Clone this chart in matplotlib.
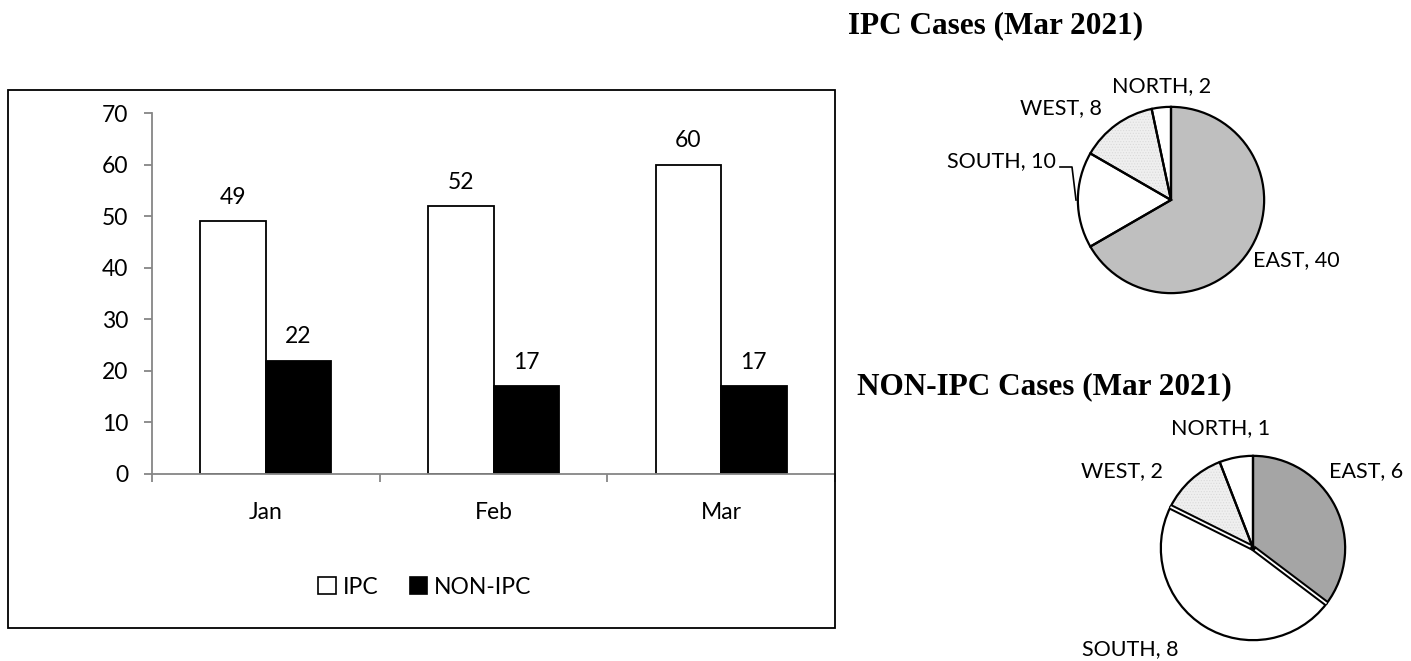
import matplotlib.pyplot as plt
import matplotlib.patches as patches
from matplotlib.lines import Line2D
import numpy as np

# data
months = ['Jan', 'Feb', 'Mar']
ipc = [49, 52, 60]
non_ipc = [22, 17, 17]

regions = ['EAST', 'SOUTH', 'WEST', 'NORTH']
ipc_mar = [40, 10, 8, 2]
non_ipc_mar = [6, 8, 2, 1]

W, H = 1411, 661
plt.rcParams['font.family'] = ['Lato', 'DejaVu Sans']
plt.rcParams['hatch.linewidth'] = 0.5


def fx(x):
    return x / W


def fy(y):
    return 1 - y / H


fig = plt.figure(figsize=(W / 100, H / 100), dpi=100)
fig.patch.set_facecolor('white')

# outer frame of bar chart
fig.patches.append(patches.Rectangle((fx(8), fy(628)), fx(835) - fx(8), fy(90) - fy(628),
                                     transform=fig.transFigure, fill=False,
                                     edgecolor='black', lw=1.3))

# bar chart
ax = fig.add_axes([fx(152), fy(474), fx(835) - fx(152), fy(113) - fy(474)])
x = np.arange(len(months))
bw = 0.287
b1 = ax.bar(x - bw / 2, ipc, bw, color='white', edgecolor='black', lw=1.3, label='IPC', zorder=2)
b2 = ax.bar(x + bw / 2, non_ipc, bw, color='black', edgecolor='black', lw=1.3, label='NON-IPC', zorder=2)
for bars, vals in ((b1, ipc), (b2, non_ipc)):
    for r, v in zip(bars, vals):
        ax.annotate(str(v), (r.get_x() + r.get_width() / 2, v), xytext=(0, 9.5),
                    textcoords='offset points', ha='center', va='bottom', fontsize=16.5)

ax.set_xlim(-0.5, 2.5)
ax.set_ylim(0, 70)
ax.set_yticks(range(0, 71, 10))
ax.set_xticks(x)
ax.set_xticklabels(months)
ax.set_xticks([-0.5, 0.5, 1.5, 2.5], minor=True)
ax.tick_params(axis='x', which='major', length=0, pad=20, labelsize=16.5)
ax.tick_params(axis='x', which='minor', length=6, color='#868686', width=1.3)
ax.tick_params(axis='y', length=6, color='#868686', width=1.3, pad=11, labelsize=16.5)
for s in ('top', 'right'):
    ax.spines[s].set_visible(False)
for s in ('left', 'bottom'):
    ax.spines[s].set_color('#868686')
    ax.spines[s].set_linewidth(1.3)

handles = [patches.Patch(facecolor='white', edgecolor='black', lw=1.2, label='IPC'),
           patches.Patch(facecolor='black', edgecolor='black', lw=1.2, label='NON-IPC')]
fig.legend(handles=handles, loc='center', bbox_to_anchor=(fx(425), fy(587)), ncol=2,
           frameon=False, fontsize=16.5, handlelength=0.75, handleheight=0.75,
           handletextpad=0.3, columnspacing=1.4)


def draw_pie(vals, east_color, cx, cy, r, double_edges=()):
    pax = fig.add_axes([fx(cx - r), fy(cy + r), 2 * r / W, 2 * r / H])
    colors = [east_color, 'white', '#efefef', 'white']
    wedges, _ = pax.pie(vals, colors=colors, startangle=90, counterclock=False,
                        wedgeprops=dict(linewidth=0))
    wedges[2].set_hatch('......')
    wedges[2].set_edgecolor('#dadada')
    outl, _ = pax.pie(vals, colors=['none'] * 4, startangle=90, counterclock=False,
                      wedgeprops=dict(edgecolor='black', linewidth=1.6))
    # doubled radial edges
    for i in double_edges:
        a = np.deg2rad(outl[i].theta1)
        pax.plot([0, np.cos(a)], [0, np.sin(a)], color='black', lw=4.2, solid_capstyle='butt', zorder=5)
        pax.plot([0.03 * np.cos(a), np.cos(a)], [0.03 * np.sin(a), np.sin(a)], color='white', lw=1.3,
                 solid_capstyle='butt', zorder=6)
    pax.set_xlim(-1.02, 1.02)
    pax.set_ylim(-1.02, 1.02)
    return pax


draw_pie(ipc_mar, '#bfbfbf', 1171, 200, 95)
draw_pie(non_ipc_mar, '#a5a5a5', 1253, 548, 94, double_edges=(0, 1))

title_font = dict(family=['Liberation Serif', 'DejaVu Serif'], fontweight='bold', fontsize=22.5)
fig.text(fx(848), fy(33), 'IPC Cases (Mar 2021)', ha='left', va='baseline', **title_font)
fig.text(fx(857), fy(394), 'NON-IPC Cases (Mar 2021)', ha='left', va='baseline', **title_font)

lab = dict(fontsize=15.5, va='baseline')
ipc_labels = [(1253, 259, 'left'), (1056, 160, 'right'), (1102, 107, 'right'), (1112, 85, 'left')]
for (lx, ly, ha), name, v in zip(ipc_labels, regions, ipc_mar):
    fig.text(fx(lx), fy(ly + 7.5), f'{name}, {v}', ha=ha, **lab)
non_labels = [(1329, 470, 'left'), (1178, 648, 'right'), (1163, 470, 'right'), (1221, 427, 'center')]
for (lx, ly, ha), name, v in zip(non_labels, regions, non_ipc_mar):
    fig.text(fx(lx), fy(ly + 7.5), f'{name}, {v}', ha=ha, **lab)

# leader line for SOUTH, 10
fig.lines.append(Line2D([fx(1060), fx(1072), fx(1076)], [fy(167), fy(167), fy(200)],
                        transform=fig.transFigure, color='black', lw=1.2))

fig.savefig('out.png', dpi=100)
